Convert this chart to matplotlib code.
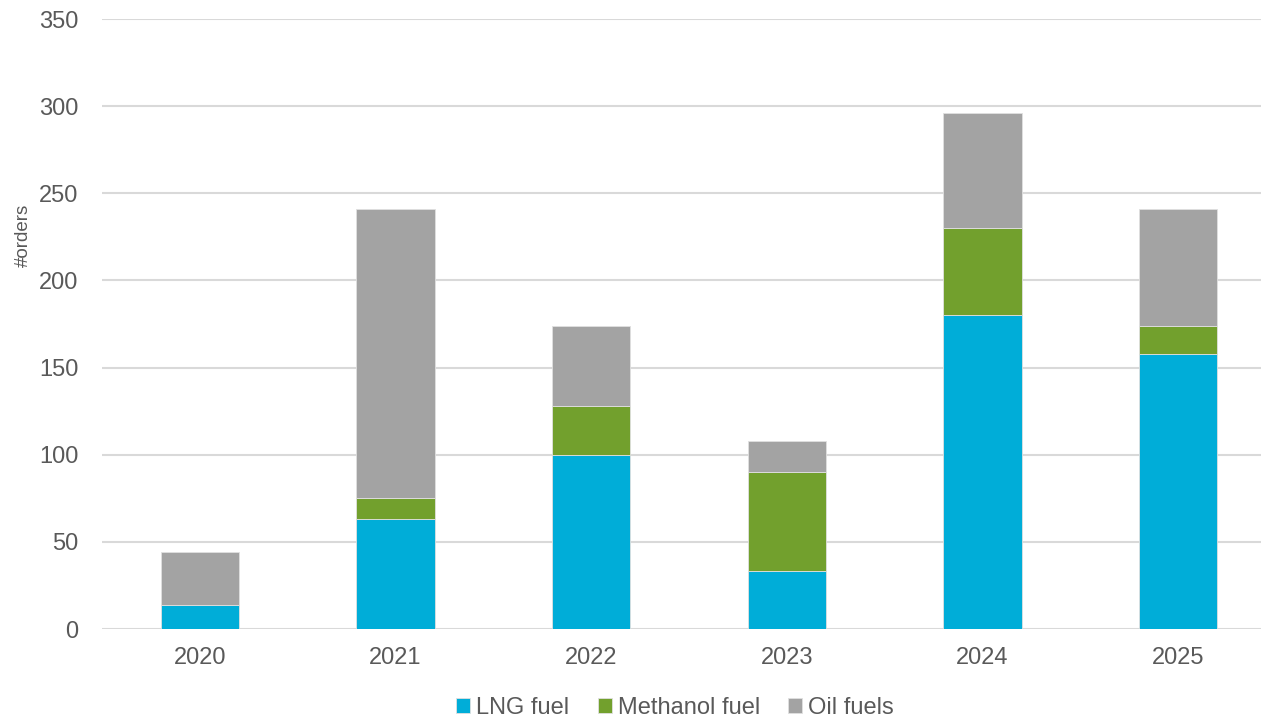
import matplotlib
matplotlib.use("Agg")
import matplotlib.pyplot as plt
import numpy as np

years = ["2020", "2021", "2022", "2023", "2024", "2025"]
lng_fuel = [14, 63, 100, 33, 180, 158]
methanol_fuel = [0, 12, 28, 57, 50, 16]
oil_fuels = [30, 166, 46, 18, 66, 67]
series_names = ["LNG fuel", "Methanol fuel", "Oil fuels"]
colors = ["#00ADD8", "#72A02D", "#A3A3A3"]

text_color = "#595959"
plt.rcParams["font.family"] = ["Liberation Sans", "DejaVu Sans"]

fig = plt.figure(figsize=(12.61, 7.21), dpi=100)
ax = fig.add_axes([102 / 1261, (721 - 629) / 721, 1174 / 1261, 610 / 721])

x = np.arange(len(years))
w = 0.4
bottom = np.zeros(len(years))
handles = []
for vals, name, c in zip([lng_fuel, methanol_fuel, oil_fuels], series_names, colors):
    v = np.array(vals, dtype=float)
    b = ax.bar(x, v, w, bottom=bottom, color=c, label=name,
               edgecolor="#e0e0e0", linewidth=0.6, zorder=3)
    handles.append(b)
    bottom += v

ax.set_xlim(-0.5, len(years) - 0.5)
ax.set_ylim(0, 350)
ax.set_yticks(range(0, 351, 50))
ax.set_xticks(x)
ax.set_xticklabels(years)
ax.grid(axis="y", color="#d9d9d9", linewidth=1.5, zorder=0)
for s in ax.spines.values():
    s.set_visible(False)
ax.tick_params(axis="both", length=0, labelsize=17, labelcolor=text_color)
ax.tick_params(axis="y", pad=17)
ax.tick_params(axis="x", pad=13)
ax.set_ylabel("#orders", fontsize=13.5, color=text_color)
ax.yaxis.set_label_coords(-70 / 1174, 0.646)

fig.legend(handles=handles, labels=series_names, loc="center",
           bbox_to_anchor=(675 / 1261, 1 - 708 / 721), ncol=3, frameon=False,
           fontsize=17, labelcolor=text_color, handlelength=0.6, handleheight=0.6,
           handletextpad=0.25, columnspacing=1.2)

fig.savefig("out.png", dpi=100)
